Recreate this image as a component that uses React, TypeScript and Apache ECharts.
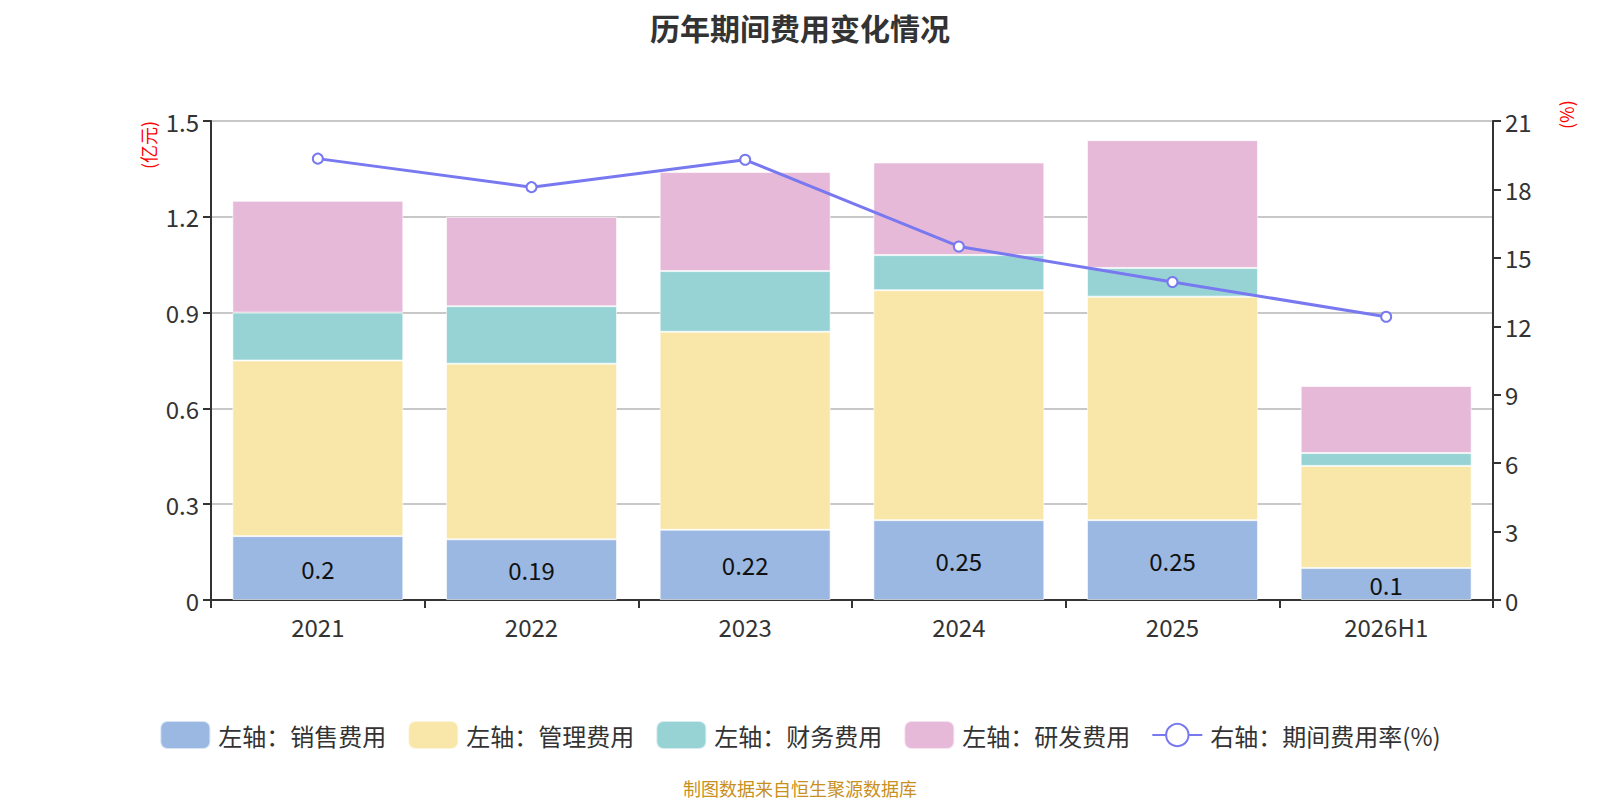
import React, { useEffect, useRef } from "react";
import * as echarts from "echarts";

const categories = ["2021", "2022", "2023", "2024", "2025", "2026H1"];
const salesExp = [0.2, 0.19, 0.22, 0.25, 0.25, 0.1];
const mgmtExp = [0.55, 0.55, 0.62, 0.72, 0.7, 0.32];
const finExp = [0.15, 0.18, 0.19, 0.11, 0.09, 0.04];
const rdExp = [0.35, 0.28, 0.31, 0.29, 0.4, 0.21];
const expRate = [19.35, 18.1, 19.3, 15.5, 13.94, 12.42];

const FONT = "'Noto Sans CJK SC', 'Noto Sans', sans-serif";

export default function App() {
  const ref = useRef<HTMLDivElement>(null);
  useEffect(() => {
    if (!ref.current) return;
    const chart = echarts.init(ref.current, null, { renderer: "svg" });
    const barBase = {
      type: "bar",
      stack: "total",
      barWidth: "80%",
      yAxisIndex: 0,
    };
    const axisCommon = {
      axisLine: { show: true, lineStyle: { color: "#333", width: 2 } },
      axisTick: { show: true, length: 8, lineStyle: { color: "#333", width: 2 } },
      axisLabel: { fontSize: 24, color: "#333", margin: 12, fontFamily: FONT },
    };
    chart.setOption({
      animation: false,
      textStyle: { fontFamily: FONT },
      graphic: [
        {
          type: "text",
          left: "center",
          top: 1,
          style: {
            text: "历年期间费用变化情况",
            fill: "#333",
            fontSize: 30,
            fontWeight: "bold",
            fontFamily: FONT,
            lineHeight: 36,
          },
        },
        {
          type: "text",
          x: 131,
          y: 161,
          rotation: Math.PI / 2,
          style: { text: "(亿元)", fill: "#ff0000", fontSize: 18, fontFamily: FONT },
        },
        {
          type: "text",
          x: 1549,
          y: 121,
          rotation: Math.PI / 2,
          style: { text: "(%)", fill: "#ff0000", fontSize: 18, fontFamily: FONT },
        },
        {
          type: "text",
          left: "center",
          top: 770,
          style: { text: "制图数据来自恒生聚源数据库", fill: "#c8901e", fontSize: 18, fontFamily: FONT, lineHeight: 20 },
        },
      ],
      grid: { left: 203, right: 99, top: 113, bottom: 200, containLabel: false },
      legend: {
        top: 707,
        left: "center",
        itemWidth: 50,
        itemHeight: 28,
        itemGap: 21,
        textStyle: { fontSize: 24, color: "#333", fontFamily: FONT, padding: [0, 0, 0, 3] },
        data: [
          { name: "左轴：销售费用", icon: "roundRect" },
          { name: "左轴：管理费用", icon: "roundRect" },
          { name: "左轴：财务费用", icon: "roundRect" },
          { name: "左轴：研发费用", icon: "roundRect" },
          { name: "右轴：期间费用率(%)" },
        ],
      },
      xAxis: {
        type: "category",
        data: categories,
        ...axisCommon,
        axisLabel: { fontSize: 24, color: "#333", margin: 14, fontFamily: FONT },
      },
      yAxis: [
        {
          type: "value",
          min: 0,
          max: 1.5,
          interval: 0.3,
          ...axisCommon,
          splitLine: { show: true, lineStyle: { color: "#c8c8c8", width: 2 } },
        },
        {
          type: "value",
          min: 0,
          max: 21,
          interval: 3,
          position: "right",
          ...axisCommon,
          splitLine: { show: false },
        },
      ],
      series: [
        {
          ...barBase,
          name: "左轴：销售费用",
          data: salesExp,
          itemStyle: { color: "#9bb8e2", borderColor: "rgba(255,255,255,0.6)", borderWidth: 1 },
          label: { show: true, position: "inside", fontSize: 24, color: "#111", fontFamily: FONT },
        },
        {
          ...barBase,
          name: "左轴：管理费用",
          data: mgmtExp,
          itemStyle: { color: "#f8e7a8", borderColor: "rgba(255,255,255,0.6)", borderWidth: 1 },
        },
        {
          ...barBase,
          name: "左轴：财务费用",
          data: finExp,
          itemStyle: { color: "#97d3d4", borderColor: "rgba(255,255,255,0.6)", borderWidth: 1 },
        },
        {
          ...barBase,
          name: "左轴：研发费用",
          data: rdExp,
          itemStyle: { color: "#e7b9d8", borderColor: "rgba(255,255,255,0.6)", borderWidth: 1 },
        },
        {
          type: "line",
          name: "右轴：期间费用率(%)",
          yAxisIndex: 1,
          data: expRate,
          symbol: "emptyCircle",
          symbolSize: 10,
          lineStyle: { color: "#7878f0", width: 3 },
          itemStyle: { color: "#7878f0", borderWidth: 2 },
          z: 10,
        },
      ],
    });
    return () => chart.dispose();
  }, []);
  return <div ref={ref} style={{ width: 1584, height: 792 }} />;
}
